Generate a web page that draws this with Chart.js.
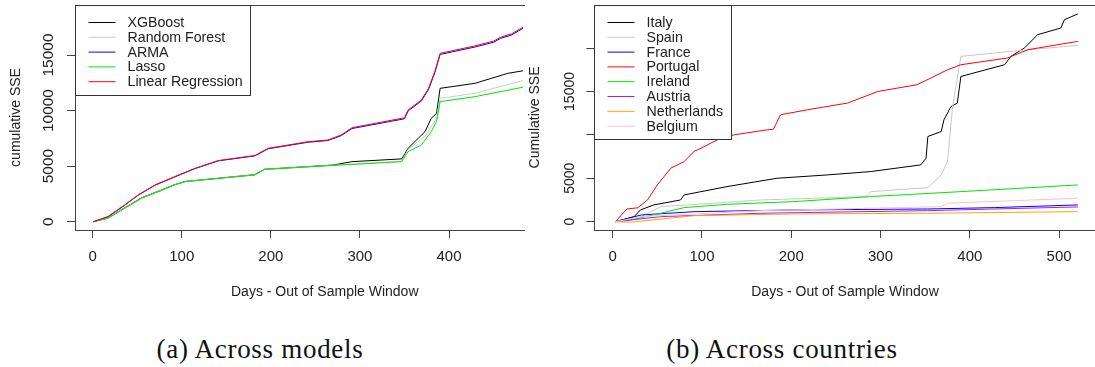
<!DOCTYPE html>
<html>
<head>
<meta charset="utf-8">
<script src="https://cdn.jsdelivr.net/npm/chart.js@4.4.1/dist/chart.umd.min.js"></script>
<style>
  body { margin: 0; width: 1095px; height: 367px; overflow: hidden; background: #fff; position: relative; }
  .panel { position: absolute; top: 0; height: 310px; overflow: hidden; }
  .panel canvas { display: block; }
  .caption { position: absolute; top: 334px; width: 320px; text-align: center;
             font-family: "Liberation Serif", "DejaVu Serif", serif; font-size: 27px;
             line-height: 30px; color: #111; letter-spacing: 0.7px; }
</style>
</head>
<body>
<div class="panel" style="left:0;width:525px"><canvas id="models" width="580" height="310"></canvas></div>
<div class="panel" style="left:525px;width:570px"><canvas id="countries" width="575" height="310"></canvas></div>
<div class="caption" style="left:100px">(a) Across models</div>
<div class="caption" style="left:622px">(b) Across countries</div>

<script>
"use strict"

// cumulative SSE per model, [day, value]
const xgboost = [[1,0],[17,330],[36,1250],[55,2150],[74,2750],[92,3330],[104,3620],[182,4230],[193,4720],[270,5100],[291,5400],[347,5650],[354,6600],[373,8100],[380,9300],[386,9750],[390,12000],[429,12450],[466,13350],[483,13580]];
const randomForest = [[1,0],[17,320],[36,1230],[55,2130],[74,2730],[92,3310],[104,3610],[182,4210],[193,4710],[279,5120],[347,5450],[354,6500],[373,7700],[386,9300],[390,11100],[429,11550],[483,12700]];
const arma = [[1,0],[17,430],[36,1480],[51,2380],[70,3280],[92,4020],[115,4780],[141,5470],[182,5920],[197,6560],[242,7150],[264,7300],[279,7740],[291,8380],[350,9260],[354,9960],[369,10870],[377,11900],[384,13400],[390,15050],[428,15700],[450,16150],[458,16500],[470,16800],[483,17400]];
const lasso = [[1,0],[17,300],[36,1200],[55,2100],[74,2700],[92,3300],[104,3600],[182,4200],[193,4700],[279,5100],[347,5400],[354,6300],[369,6900],[380,8100],[386,9000],[390,10800],[429,11250],[483,12100]];
const linearRegression = [[1,0],[17,450],[36,1500],[51,2400],[70,3300],[92,4050],[115,4800],[141,5500],[182,5950],[197,6600],[242,7200],[264,7350],[279,7800],[291,8450],[350,9350],[354,10050],[369,10950],[377,12000],[384,13500],[390,15150],[428,15800],[450,16250],[458,16600],[470,16900],[483,17500]];

// cumulative SSE per country, [day, value]
const italy = [[3,0],[24,580],[31,1350],[46,1930],[76,2500],[80,3080],[99,3460],[128,4040],[184,5000],[241,5390],[289,5770],[345,6540],[351,7310],[353,9810],[368,10390],[371,11730],[379,13270],[386,13660],[390,16730],[439,18080],[446,19040],[461,20000],[476,21540],[502,22310],[506,23270],[521,23930]];
const spain = [[3,0],[28,390],[54,1730],[166,2500],[285,2890],[289,3460],[353,3920],[368,5390],[375,6920],[381,13470],[390,19040],[446,19620],[521,20310]];
const france = [[3,0],[32,770],[91,1150],[203,1350],[353,1460],[428,1620],[521,1930]];
const portugal = [[3,0],[16,1460],[28,1600],[39,2500],[50,4230],[65,6160],[80,6920],[91,8080],[99,8470],[121,9620],[136,10000],[173,10580],[180,10650],[188,12310],[218,12890],[263,13660],[297,15000],[341,15780],[360,16730],[375,17500],[390,18080],[442,18850],[465,19810],[521,20770]];
const ireland = [[3,0],[21,200],[54,970],[80,1620],[128,2000],[203,2310],[289,2890],[390,3460],[521,4230]];
const austria = [[3,0],[54,580],[166,970],[353,1270],[521,1700]];
const netherlands = [[3,0],[20,-60],[91,690],[203,890],[353,970],[521,1150]];
const belgium = [[3,0],[32,580],[166,1270],[368,1730],[375,2120],[521,2700]];

const modelNames = ["XGBoost", "Random Forest", "ARMA", "Lasso", "Linear Regression"];
const modelColors = ["#000000", "#cccccc", "#0000ff", "#00e600", "#ff0000"];
const countryNames = ["Italy", "Spain", "France", "Portugal", "Ireland", "Austria", "Netherlands", "Belgium"];
const countryColors = ["#000000", "#c8c8c8", "#0000ff", "#ff0000", "#00e600", "#a020f0", "#ffa500", "#ffc0cb"];

const dayTicks = [0, 100, 200, 300, 400, 500];
const modelSseTicks = [0, 5000, 10000, 15000];
const countrySseTicks = [0, 5000, 10000, 15000, 20000];

const FONT = "'Liberation Sans', Arial, sans-serif";
const INK = "#222";

Chart.defaults.font.family = FONT;
Chart.defaults.color = INK;

// R style box round the plot region
const frame = {
    id: "frame",
    afterDatasetsDraw(chart){
        const a = chart.chartArea;
        const ctx = chart.ctx;
        ctx.save();
        ctx.strokeStyle = "#444";
        ctx.lineWidth = 1;
        ctx.strokeRect(Math.round(a.left) + 0.5, Math.round(a.top) + 0.5, Math.round(a.right - a.left), Math.round(a.bottom - a.top));
        ctx.restore();
    }
};

// vertical y labels, dropping any that would run into the previous one
const uprightTicks = {
    id: "uprightTicks",
    afterDraw(chart, args, opts){
        const scale = chart.scales.y;
        const ctx = chart.ctx;
        ctx.save();
        ctx.font = `${opts.size}px ${FONT}`;
        ctx.fillStyle = INK;
        ctx.textAlign = "center";
        ctx.textBaseline = "middle";
        const gap = 0.8 * ctx.measureText("m").width;
        const x = scale.right - scale.options.grid.tickLength - opts.offset;
        let lastEdge = Infinity;
        scale.ticks.forEach(t => {
            const label = String(t.value);
            const y = scale.getPixelForValue(t.value);
            const w = ctx.measureText(label).width;
            if (y + w / 2 > lastEdge - gap) return;
            ctx.save();
            ctx.translate(x, y);
            ctx.rotate(-Math.PI / 2);
            ctx.fillText(label, 0, 0);
            ctx.restore();
            lastEdge = y - w / 2;
        });
        ctx.restore();
    }
};

// boxed legend in the top left corner of the plot
const cornerLegend = {
    id: "cornerLegend",
    afterDraw(chart, args, opts){
        const a = chart.chartArea;
        const ctx = chart.ctx;
        const sets = chart.data.datasets;
        ctx.save();
        ctx.font = `${opts.size}px ${FONT}`;
        const textW = Math.max(...sets.map(d => ctx.measureText(d.label).width));
        const left = Math.round(a.left) + 0.5;
        const top = Math.round(a.top) + 0.5;
        const w = 52 + textW + 8;
        const h = sets.length * opts.row + 16;
        ctx.fillStyle = "#fff";
        ctx.fillRect(left, top, w, h);
        ctx.strokeStyle = "#333";
        ctx.lineWidth = 1;
        ctx.strokeRect(left, top, Math.round(w), Math.round(h));
        ctx.textBaseline = "middle";
        sets.forEach((d, i) => {
            const y = top + 17 + i * opts.row;
            ctx.strokeStyle = d.borderColor;
            ctx.beginPath();
            ctx.moveTo(left + 13, y);
            ctx.lineTo(left + 40, y);
            ctx.stroke();
            ctx.fillStyle = INK;
            ctx.fillText(d.label, left + 52, y + 0.5);
        });
        ctx.restore();
    }
};

function toPoints(pairs){
    return pairs.map(p => ({ x: p[0], y: p[1] }));
}

function makeDatasets(names, colors, series){
    return names.map((name, i) => ({
        label: name,
        data: toPoints(series[i]),
        borderColor: colors[i],
        borderWidth: 1,
        pointRadius: 0,
        tension: 0,
        // later series sit on top
        order: names.length - i
    }));
}

function buildChart(canvasId, cfg){
    return new Chart(document.getElementById(canvasId), {
        type: "line",
        data: { datasets: makeDatasets(cfg.names, cfg.colors, cfg.series) },
        options: {
            responsive: false,
            animation: false,
            events: [],
            layout: { padding: cfg.padding },
            plugins: {
                legend: { display: false },
                tooltip: { enabled: false },
                uprightTicks: { size: cfg.yTickSize, offset: cfg.labelOffset },
                cornerLegend: { size: 14.2, row: 14.8 }
            },
            scales: {
                x: {
                    type: "linear",
                    min: cfg.xMin,
                    max: cfg.xMax,
                    afterBuildTicks: s => { s.ticks = dayTicks.map(v => ({ value: v })); },
                    afterFit: s => { s.height = 80; },
                    border: { display: false },
                    grid: { drawOnChartArea: false, drawTicks: true, tickLength: 8, color: "#444" },
                    ticks: { padding: 9.7, font: { size: 15 }, color: INK, maxRotation: 0 },
                    title: { display: true, text: "Days - Out of Sample Window", font: { size: 14 }, padding: { top: 0, bottom: 9.6 } }
                },
                y: {
                    type: "linear",
                    min: cfg.yMin,
                    max: cfg.yMax,
                    afterBuildTicks: s => { s.ticks = cfg.yTicks.map(v => ({ value: v })); },
                    afterFit: s => { s.width = cfg.yWidth; },
                    border: { display: false },
                    grid: { drawOnChartArea: false, drawTicks: true, tickLength: 8, color: "#444" },
                    ticks: { display: false },
                    title: { display: true, text: cfg.yTitle, font: { size: 14 }, padding: { top: cfg.titlePad, bottom: 0 } }
                }
            }
        },
        plugins: [frame, uprightTicks, cornerLegend]
    });
}

buildChart("models", {
    names: modelNames,
    colors: modelColors,
    series: [xgboost, randomForest, arma, lasso, linearRegression],
    padding: { left: 0, top: 5, right: 5.5, bottom: 0 },
    yWidth: 75,
    xMin: -19.8, xMax: 540.8,
    yMin: -750, yMax: 19500,
    yTicks: modelSseTicks,
    yTickSize: 15.5,
    yTitle: "cumulative SSE",
    titlePad: 7.6,
    labelOffset: 18
});

buildChart("countries", {
    names: countryNames,
    colors: countryColors,
    series: [italy, spain, france, portugal, ireland, austria, netherlands, belgium],
    padding: { left: 0, top: 5, right: 4.3, bottom: 0 },
    yWidth: 69.3,
    xMin: -20.6, xMax: 541,
    yMin: -960, yMax: 24960,
    yTicks: countrySseTicks,
    yTickSize: 14,
    yTitle: "Cumulative SSE",
    titlePad: 2.1,
    labelOffset: 16
});
</script>
</body>
</html>
